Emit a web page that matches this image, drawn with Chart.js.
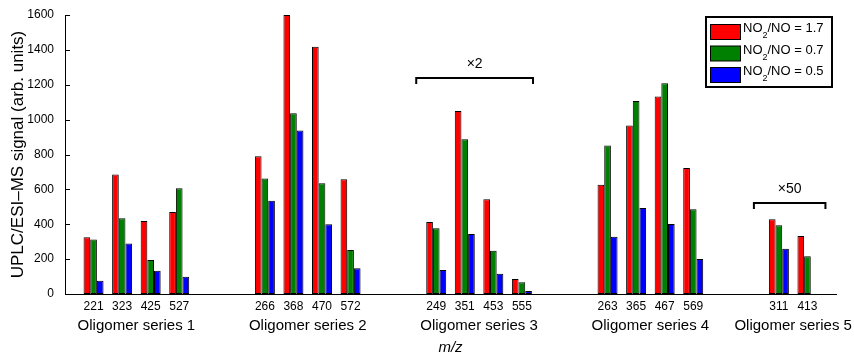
<!DOCTYPE html>
<html>
<head>
<meta charset="utf-8">
<script src="https://cdn.jsdelivr.net/npm/chart.js@4.4.1/dist/chart.umd.min.js"></script>
<style>
  html, body { margin: 0; padding: 0; background: #fff; }
  #wrap { width: 854px; height: 356px; }
</style>
</head>
<body>
<div id="wrap"><canvas id="chart" width="854" height="356"></canvas></div>
<script>
// m/z categories, '' = empty slot between oligomer series
const mzLabels = ['', '221', '323', '425', '527', '', '', '266', '368', '470', '572', '', '',
  '249', '351', '453', '555', '', '', '263', '365', '467', '569', '', '', '311', '413', ''];

// signal values (arb. units) per NO2/NO ratio
const ratio17 = [null, 325, 686, 418, 470, 0, 0, 790, 1600, 1418, 658, 0, 0,
  413, 1049, 543, 86, 0, 0, 627, 967, 1133, 722, 0, 0, 428, 333, null];
const ratio07 = [null, 313, 434, 195, 606, 0, 0, 663, 1036, 635, 252, 0, 0,
  377, 887, 248, 67, 0, 0, 852, 1107, 1208, 486, 0, 0, 394, 216, null];
const ratio05 = [null, 76, 290, 134, 99, 0, 0, 535, 938, 400, 147, 0, 0,
  138, 344, 116, 17, 0, 0, 329, 493, 401, 201, 0, 0, 260, 0, null];

const ratioNames = ['1.7', '0.7', '0.5'];
const ratioColors = ['#ff0000', '#008000', '#0000ff'];

// oligomer series under the axis: first and last category index
const seriesNames = ['Oligomer series 1', 'Oligomer series 2', 'Oligomer series 3', 'Oligomer series 4', 'Oligomer series 5'];
const seriesFirst = [1, 7, 13, 19, 25];
const seriesLast = [4, 10, 16, 22, 26];

// scaling brackets
const bracketText = ['\u00d72', '\u00d750'];
const bracketFirst = [13, 25];
const bracketLast = [16, 26];
const bracketLevel = [1238, 522];

const yTicks = [0, 200, 400, 600, 800, 1000, 1200, 1400, 1600];

const FONT = "'Liberation Sans', Arial, Helvetica, sans-serif";

const extras = {
  id: 'extras',
  afterDraw(chart) {
    const ctx = chart.ctx;
    const x = chart.scales.x, y = chart.scales.y;
    const area = chart.chartArea;
    const slot = x.getPixelForValue(1) - x.getPixelForValue(0);
    ctx.save();

    // inward y ticks
    ctx.strokeStyle = '#000';
    ctx.lineWidth = 1;
    yTicks.forEach(v => {
      const py = Math.round(y.getPixelForValue(v)) + 0.5;
      ctx.beginPath();
      ctx.moveTo(area.left, py);
      ctx.lineTo(area.left + 5, py);
      ctx.stroke();
    });

    // series names
    ctx.fillStyle = '#000';
    ctx.font = '15px ' + FONT;
    ctx.textAlign = 'center';
    ctx.textBaseline = 'middle';
    seriesNames.forEach((name, i) => {
      const cx = (x.getPixelForValue(seriesFirst[i]) + x.getPixelForValue(seriesLast[i])) / 2;
      ctx.fillText(name, cx, 326);
    });

    // axis title m/z
    ctx.font = 'italic 15px ' + FONT;
    ctx.fillText('m/z', (area.left + area.right) / 2, 348);

    // brackets
    ctx.lineWidth = 2;
    const pads = [[-0.7, 0.39], [-0.875, 0.63]];
    bracketText.forEach((t, i) => {
      const x1 = x.getPixelForValue(bracketFirst[i]) + pads[i][0] * slot;
      const x2 = x.getPixelForValue(bracketLast[i]) + pads[i][1] * slot;
      const by = y.getPixelForValue(bracketLevel[i]);
      ctx.beginPath();
      ctx.moveTo(x1, by + 6);
      ctx.lineTo(x1, by);
      ctx.lineTo(x2, by);
      ctx.lineTo(x2, by + 6);
      ctx.stroke();
      ctx.font = '14px ' + FONT;
      ctx.fillText(t, (x1 + x2) / 2, by - 14);
    });

    // legend
    const lx = area.right - 130, ly = area.top + 2;
    ctx.lineWidth = 2;
    ctx.fillStyle = '#fff';
    ctx.fillRect(lx, ly, 126, 70);
    ctx.strokeRect(lx, ly, 126, 70);
    ctx.lineWidth = 1;
    ratioNames.forEach((r, i) => {
      const ry = ly + 7 + i * 21.5;
      ctx.fillStyle = ratioColors[i];
      ctx.fillRect(lx + 4.5, ry + 0.5, 30, 15);
      ctx.strokeStyle = '#000';
      ctx.strokeRect(lx + 4.5, ry + 0.5, 30, 15);
      ctx.fillStyle = '#000';
      ctx.textAlign = 'left';
      ctx.textBaseline = 'alphabetic';
      ctx.font = '13px ' + FONT;
      let tx = lx + 37;
      ctx.fillText('NO', tx, ry + 8);
      tx += ctx.measureText('NO').width;
      ctx.font = '9px ' + FONT;
      ctx.fillText('2', tx, ry + 14);
      tx += ctx.measureText('2').width;
      ctx.font = '13px ' + FONT;
      ctx.fillText('/NO = ' + r, tx, ry + 8);
    });
    ctx.restore();
  }
};

const datasets = [ratio17, ratio07, ratio05].map((d, i) => ({
  label: 'NO2/NO = ' + ratioNames[i],
  data: d,
  backgroundColor: ratioColors[i],
  borderColor: '#000',
  borderWidth: 1,
  borderSkipped: false,
  categoryPercentage: 0.7,
  barPercentage: 1.0
}));

new Chart(document.getElementById('chart'), {
  type: 'bar',
  data: { labels: mzLabels, datasets },
  options: {
    responsive: false,
    animation: false,
    devicePixelRatio: 1,
    layout: { padding: { top: 15, right: 18, left: 0, bottom: 0 } },
    plugins: { legend: { display: false }, tooltip: { enabled: false } },
    scales: {
      x: {
        offset: false,
        grid: { display: false, drawTicks: false },
        border: { display: true, color: '#000', width: 1 },
        ticks: { autoSkip: false, maxRotation: 0, color: '#000', padding: 5, font: { family: FONT, size: 12 } },
        afterFit: s => { s.height = 62; }
      },
      y: {
        min: 0,
        max: 1600,
        grid: { display: false },
        border: { display: true, color: '#000', width: 1 },
        ticks: { stepSize: 200, color: '#000', padding: 3, font: { family: FONT, size: 12 }, callback: v => String(v) },
        title: { display: true, text: 'UPLC/ESI\u2013MS signal (arb. units)', color: '#000', font: { family: FONT, size: 17 }, padding: { top: 8, bottom: 0 } },
        afterFit: s => { s.width = 65; }
      }
    }
  },
  plugins: [extras]
});
</script>
</body>
</html>
